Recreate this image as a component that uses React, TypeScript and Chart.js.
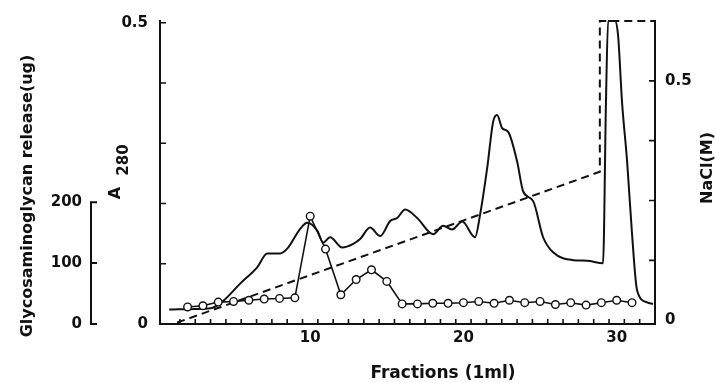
import { useEffect, useRef } from "react";
import { Chart, registerables } from "chart.js";

Chart.register(...registerables);

// ---- data ----
const gagFractions = [2, 3, 4, 5, 6, 7, 8, 9, 10, 11, 12, 13, 14, 15, 16, 17, 18, 19, 20, 21, 22, 23, 24, 25, 26, 27, 28, 29, 30, 31];
const gagValues = [28, 30, 36, 37, 39, 41, 42, 43, 177, 123, 48, 73, 89, 70, 33, 33, 34, 34, 35, 37, 34, 39, 35, 37, 32, 35, 31, 35, 39, 35];

const a280Fractions = [
  0.8, 2.5, 3.5, 4.26, 5.43, 6.54, 7.2, 8.04, 8.5, 9.35, 9.81, 10.46, 10.85, 11.3, 12.09, 12.81, 13.26, 13.91,
  14.57, 15.22, 15.68, 16.2, 16.98, 18.02, 18.67, 19.26, 19.92, 20.76, 21.09, 21.55, 21.94, 22.2, 22.53, 22.92,
  23.5, 23.9, 24.55, 25.2, 25.85, 27.16, 28.07, 29.11, 29.3, 29.44, 29.89, 30.09, 30.35, 30.68, 31.0, 31.33,
  31.98, 32.37,
];
const a280Values = [
  0.024, 0.025, 0.026, 0.037, 0.067, 0.094, 0.117, 0.117, 0.125, 0.158, 0.168, 0.155, 0.135, 0.144, 0.127, 0.133,
  0.141, 0.16, 0.146, 0.171, 0.176, 0.19, 0.176, 0.149, 0.163, 0.157, 0.17, 0.144, 0.182, 0.259, 0.336, 0.347,
  0.325, 0.319, 0.27, 0.22, 0.204, 0.144, 0.119, 0.106, 0.105, 0.101, 0.368, 0.503, 0.503, 0.479, 0.368, 0.27,
  0.15, 0.056, 0.036, 0.033,
];

const naclFractions = [1.32, 28.9, 28.9, 32.5];
const naclValues = [-0.005, 0.31, 0.625, 0.625];

const xLabelTicks = [10, 20, 30];
const xMarkTicks = Array.from({ length: 31 }, (_, i) => i + 1.5);
const a280LabelTicks = [0, 0.5];
const a280MarkTicks = [0.1, 0.2, 0.3, 0.4, 0.5];
const gagLabelTicks = [0, 100, 200];
const naclLabelTicks = [0, 0.5];
const naclMarkTicks = [0.125, 0.25, 0.375, 0.5];

const INK = "#111";
const FONT = '"DejaVu Sans"';

const decor = {
  id: "decor",
  beforeDraw(chart: any) {
    const ctx = chart.ctx;
    ctx.save();
    ctx.fillStyle = "#fff";
    ctx.fillRect(0, 0, chart.width, chart.height);
    ctx.restore();
  },
  afterDraw(chart: any) {
    const { ctx, chartArea: ca } = chart;
    const { x, y, yG, yN } = chart.scales;
    ctx.save();
    ctx.strokeStyle = INK;
    ctx.fillStyle = INK;
    ctx.lineWidth = 1.6;
    ctx.beginPath();
    for (const v of xMarkTicks) {
      const px = x.getPixelForValue(v);
      ctx.moveTo(px, ca.bottom);
      ctx.lineTo(px, ca.bottom - 5);
    }
    for (const v of a280MarkTicks) {
      const py = y.getPixelForValue(v);
      ctx.moveTo(ca.left, py);
      ctx.lineTo(ca.left + 6, py);
    }
    for (const v of naclMarkTicks) {
      const py = yN.getPixelForValue(v);
      ctx.moveTo(ca.right, py);
      ctx.lineTo(ca.right - 6, py);
    }
    ctx.stroke();

    // short glycosaminoglycan axis
    const gx = yG.right;
    ctx.lineWidth = 2;
    ctx.beginPath();
    ctx.moveTo(gx, yG.getPixelForValue(0));
    ctx.lineTo(gx, yG.getPixelForValue(200));
    for (const v of gagLabelTicks) {
      const py = yG.getPixelForValue(v);
      ctx.moveTo(gx - 1, py);
      ctx.lineTo(gx + 6, py);
    }
    ctx.stroke();

    // titles
    const rot = (text: string, tx: number, ty: number, size: number) => {
      ctx.save();
      ctx.translate(tx, ty);
      ctx.rotate(-Math.PI / 2);
      ctx.font = `bold ${size}px ${FONT}`;
      ctx.textAlign = "center";
      ctx.textBaseline = "alphabetic";
      ctx.fillText(text, 0, 0);
      ctx.restore();
    };
    rot("Glycosaminoglycan release(ug)", 32, 196, 16);
    rot("A", 120, 193, 16);
    rot("280", 128, 160, 15);
    rot("NaCl(M)", 712, 168, 16);

    ctx.font = `bold 17px ${FONT}`;
    ctx.textAlign = "center";
    ctx.textBaseline = "alphabetic";
    ctx.fillText("Fractions (1ml)", 443, 378);
    ctx.restore();
  },
};

export default function App() {
  const ref = useRef<HTMLCanvasElement | null>(null);

  useEffect(() => {
    if (!ref.current) return;
    const tickFont = { family: FONT, weight: "bold" as const, size: 15 };
    const noGrid = { display: false, drawTicks: false, tickLength: 0 };
    const chart = new Chart(ref.current, {
      type: "line",
      data: {
        datasets: [
          {
            label: "Glycosaminoglycan",
            data: gagFractions.map((f, i) => ({ x: f, y: gagValues[i] })),
            yAxisID: "yG",
            borderColor: INK,
            borderWidth: 1.6,
            pointRadius: 3.8,
            pointBorderWidth: 1.4,
            pointBackgroundColor: "#fff",
            pointBorderColor: INK,
            tension: 0,
            clip: 6,
          },
          {
            label: "A280",
            data: a280Fractions.map((f, i) => ({ x: f, y: a280Values[i] })),
            yAxisID: "y",
            borderColor: INK,
            borderWidth: 2,
            pointRadius: 0,
            cubicInterpolationMode: "monotone",
            clip: 6,
          },
          {
            label: "NaCl",
            data: naclFractions.map((f, i) => ({ x: f, y: naclValues[i] })),
            yAxisID: "yN",
            borderColor: INK,
            borderWidth: 2,
            borderDash: [8, 5],
            pointRadius: 0,
            tension: 0,
            clip: 6,
          },
        ],
      },
      options: {
        responsive: false,
        animation: false,
        devicePixelRatio: 1,
        layout: { padding: { top: 18, left: 0, right: 0, bottom: 0 } },
        plugins: { legend: { display: false }, tooltip: { enabled: false } },
        scales: {
          x: {
            type: "linear",
            position: "bottom",
            min: 0.2,
            max: 32.5,
            afterBuildTicks: (s: any) => {
              s.ticks = xLabelTicks.map((v) => ({ value: v }));
            },
            afterFit: (s: any) => {
              s.height = 59;
            },
            grid: noGrid,
            border: { display: true, color: INK, width: 2 },
            ticks: { font: tickFont, color: INK, padding: 5, maxRotation: 0, callback: (v: any) => String(v) },
          },
          yG: {
            type: "linear",
            position: "left",
            weight: 2,
            min: 0,
            max: 497.6,
            afterBuildTicks: (s: any) => {
              s.ticks = gagLabelTicks.map((v) => ({ value: v }));
            },
            afterFit: (s: any) => {
              s.width = 91;
            },
            grid: noGrid,
            border: { display: false },
            ticks: { font: tickFont, color: INK, padding: 9, callback: (v: any) => String(v) },
          },
          y: {
            type: "linear",
            position: "left",
            weight: 1,
            min: 0,
            max: 0.503,
            afterBuildTicks: (s: any) => {
              s.ticks = a280LabelTicks.map((v) => ({ value: v }));
            },
            afterFit: (s: any) => {
              s.width = 69;
            },
            grid: noGrid,
            border: { display: true, color: INK, width: 2 },
            ticks: { font: tickFont, color: INK, padding: 12, callback: (v: any) => String(v) },
          },
          yN: {
            type: "linear",
            position: "right",
            min: -0.008,
            max: 0.625,
            afterBuildTicks: (s: any) => {
              s.ticks = naclLabelTicks.map((v) => ({ value: v }));
            },
            afterFit: (s: any) => {
              s.width = 60;
            },
            grid: noGrid,
            border: { display: true, color: INK, width: 2 },
            ticks: { font: tickFont, color: INK, padding: 10, callback: (v: any) => String(v) },
          },
        },
      },
      plugins: [decor],
    });
    return () => chart.destroy();
  }, []);

  return (
    <div style={{ position: "fixed", left: 0, top: 0, width: 715, height: 383, background: "#fff" }}>
      <canvas ref={ref} width={715} height={383} />
    </div>
  );
}
